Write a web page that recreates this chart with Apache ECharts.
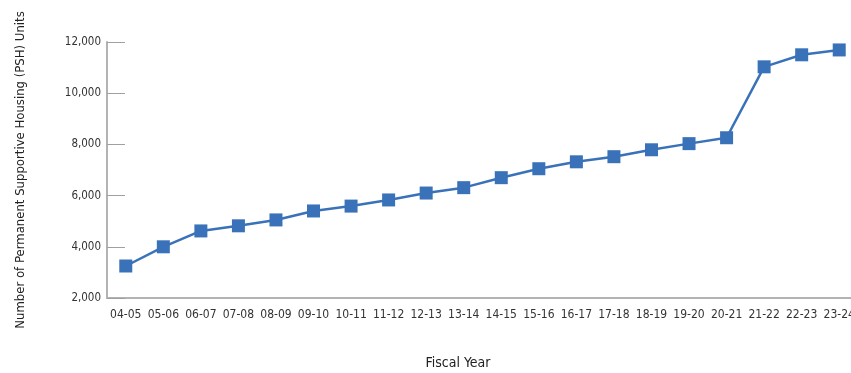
<!DOCTYPE html>
<html>
<head>
<meta charset="utf-8">
<script src="https://cdn.jsdelivr.net/npm/echarts@6/dist/echarts.min.js"></script>
<style>
html,body{margin:0;padding:0;background:#fff;}
#chart{width:851px;height:373px;}
</style>
</head>
<body>
<div id="chart"></div>
<script>
// 财年
var fiscalYears = ['04-05','05-06','06-07','07-08','08-09','09-10','10-11','11-12','12-13','13-14',
	'14-15','15-16','16-17','17-18','18-19','19-20','20-21','21-22','22-23','23-24'];
// PSH units
var pshUnits = [3250,4000,4620,4820,5050,5400,5590,5830,6100,6310,
	6700,7050,7320,7520,7790,8030,8260,11030,11500,11690];
var yTicks = {min:2000, max:12000, step:2000};

var font = '"DejaVu Sans Condensed", "Liberation Sans Narrow", sans-serif';
var chart = echarts.init(document.getElementById('chart'));
var option = {
	animation: false,
	grid: {left: 107, top: 42, bottom: 75, right: -7, containLabel: false, outerBoundsMode: 'none'},
	xAxis: {
		type: 'category',
		data: fiscalYears,
		boundaryGap: true,
		axisLine: {lineStyle: {color: '#b3b3b3', width: 2}},
		axisTick: {inside: true, length: 7, interval: 0, lineStyle: {color: '#a0a0a0'}},
		axisLabel: {interval: 0, margin: 11, color: '#333', fontSize: 12, fontFamily: font}
	},
	yAxis: {
		type: 'value',
		min: yTicks.min, max: yTicks.max, interval: yTicks.step,
		name: 'Number of Permanent Supportive Housing (PSH) Units',
		nameLocation: 'middle',
		nameGap: 80,
		nameTextStyle: {color: '#222', fontSize: 13, fontFamily: font},
		axisLine: {show: true, lineStyle: {color: '#b3b3b3', width: 2}},
		axisTick: {show: true, inside: true, length: 18, lineStyle: {color: '#a0a0a0'}},
		splitLine: {show: false},
		axisLabel: {margin: 6, color: '#333', fontSize: 11.5, fontFamily: font,
			formatter: function(v){ return v.toLocaleString('en-US'); }}
	},
	graphic: [{
		type: 'text', x: 458, y: 363,
		style: {text: 'Fiscal Year', fill: '#222', fontSize: 14, fontFamily: font,
			align: 'center', verticalAlign: 'middle'}
	}],
	series: [{
		type: 'line',
		data: pshUnits,
		symbol: 'rect',
		symbolSize: 13,
		itemStyle: {color: '#3a72b9'},
		lineStyle: {color: '#3a72b9', width: 2.5}
	}]
};
chart.setOption(option);
</script>
</body>
</html>
